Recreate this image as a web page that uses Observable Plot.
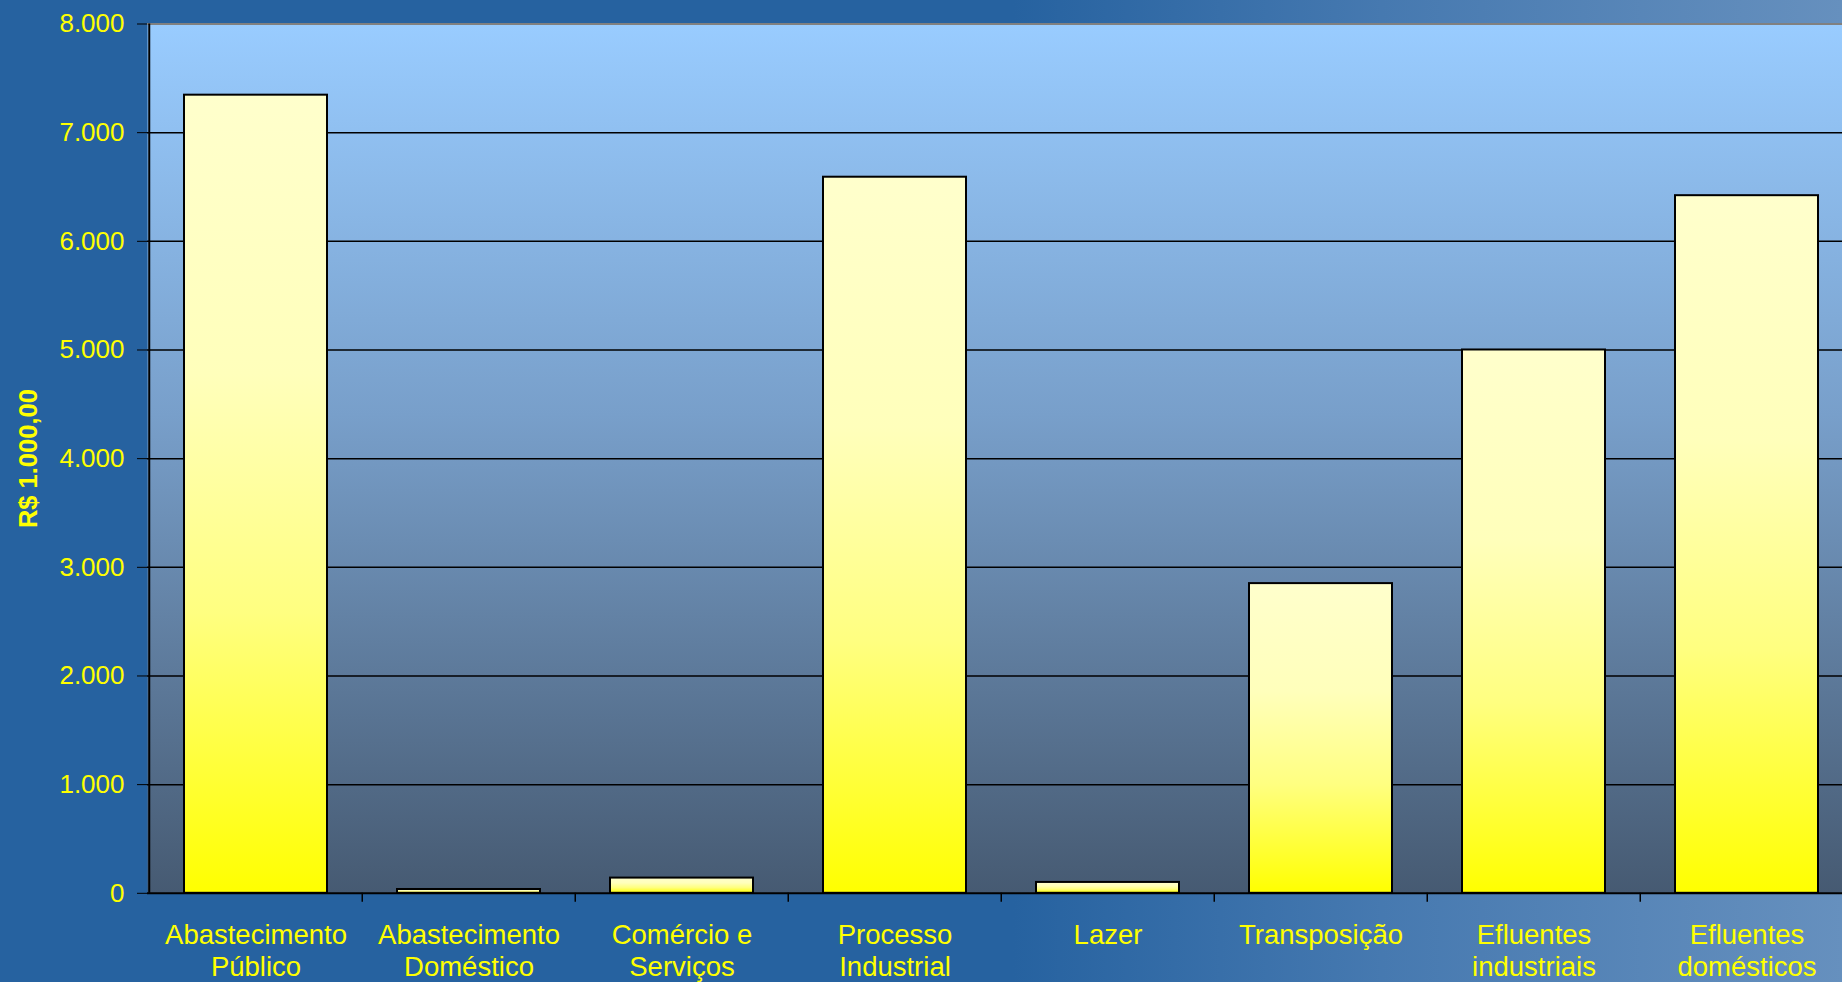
<!DOCTYPE html>
<html>
<head>
<meta charset="utf-8">
<script src="https://cdn.jsdelivr.net/npm/d3@7"></script>
<script src="https://cdn.jsdelivr.net/npm/@observablehq/plot@0.6"></script>
<style>
  html, body { margin: 0; padding: 0; overflow: hidden; }
  body {
    width: 1842px; height: 982px;
    background: linear-gradient(to right, #2662a0 0%, #2662a0 55%, #4679b0 75%, #6690be 100%);
  }
</style>
</head>
<body>
<div id="chart"></div>
<script>
// ---- data ----
const categories = [
  "Abastecimento\nPúblico",
  "Abastecimento\nDoméstico",
  "Comércio e\nServiços",
  "Processo\nIndustrial",
  "Lazer",
  "Transposição",
  "Efluentes\nindustriais",
  "Efluentes\ndomésticos"
];
const values = [7345, 35, 140, 6590, 100, 2850, 5000, 6420];
const yTicks = [0, 1000, 2000, 3000, 4000, 5000, 6000, 7000, 8000];
const yTickLabels = ["0", "1.000", "2.000", "3.000", "4.000", "5.000", "6.000", "7.000", "8.000"];
const yTitle = "R$ 1.000,00";

const data = categories.map((c, i) => ({category: c, value: values[i]}));

// ---- layout ----
const W = 1842, H = 982;
const mL = 147, mT = 23.5, mB = 89.2;
const xRange = [147, 1855];
const step = (xRange[1] - xRange[0]) / categories.length;
const yellow = "#ffff00";

const plot = Plot.plot({
  width: W,
  height: H,
  marginLeft: mL,
  marginRight: 0,
  marginTop: mT,
  marginBottom: mB,
  style: {
    background: "transparent",
    color: yellow,
    fontFamily: "'Liberation Sans', Arial, sans-serif",
    fontSize: "26px",
    overflow: "visible",
    maxWidth: "none"
  },
  x: {domain: categories, range: xRange, paddingInner: 0.33, paddingOuter: 0.165},
  y: {domain: [0, 8000]},
  marks: [
    Plot.frame({fill: "url(#plotBg)", stroke: "none"}),
    Plot.ruleY(yTicks.slice(1, -1), {stroke: "black", strokeWidth: 1.5}),
    Plot.ruleY([8000], {stroke: "#808080", strokeWidth: 2}),
    Plot.barY(data, {x: "category", y: "value", fill: "url(#barGrad)", stroke: "black", strokeWidth: 2}),
    Plot.ruleY([0], {stroke: "black", strokeWidth: 2}),
    // y axis line
    Plot.ruleX([categories[0]], {dx: -step / 2, stroke: "black", strokeWidth: 2}),
    // category boundary ticks
    Plot.ruleX(categories.slice(1), {x: d => d, y1: 0, y2: 0, dx: -step / 2, insetBottom: -9, stroke: "black", strokeWidth: 1.5}),
    Plot.axisY({
      ticks: yTicks,
      tickFormat: (d) => yTickLabels[yTicks.indexOf(d)],
      tickSize: 10,
      tickPadding: 13,
      stroke: "black",
      fill: yellow,
      fontSize: 26,
      label: null
    }),
    Plot.axisX({
      tickSize: 0,
      tickPadding: 28,
      fill: yellow,
      fontSize: 27.5,
      lineHeight: 1.17,
      label: null
    }),
    Plot.text([yTitle], {
      frameAnchor: "left",
      dx: -119,
      rotate: -90,
      text: d => d,
      fill: yellow,
      fontSize: 25.5,
      fontWeight: "bold",
      textAnchor: "middle",
      lineAnchor: "middle"
    })
  ]
});

// gradients
const svg = d3.select(plot);
const defs = svg.insert("defs", ":first-child");
const bg = defs.append("linearGradient").attr("id", "plotBg")
  .attr("x1", 0).attr("y1", 0).attr("x2", 0).attr("y2", 1);
bg.append("stop").attr("offset", "0%").attr("stop-color", "#99ccff");
bg.append("stop").attr("offset", "45%").attr("stop-color", "#789fca");
bg.append("stop").attr("offset", "100%").attr("stop-color", "#465a72");
const bar = defs.append("linearGradient").attr("id", "barGrad")
  .attr("x1", 0).attr("y1", 0).attr("x2", 0).attr("y2", 1);
bar.append("stop").attr("offset", "0%").attr("stop-color", "#ffffcc");
bar.append("stop").attr("offset", "35%").attr("stop-color", "#ffffbb");
bar.append("stop").attr("offset", "65%").attr("stop-color", "#ffff80");
bar.append("stop").attr("offset", "100%").attr("stop-color", "#ffff00");

document.getElementById("chart").appendChild(plot);
</script>
</body>
</html>
